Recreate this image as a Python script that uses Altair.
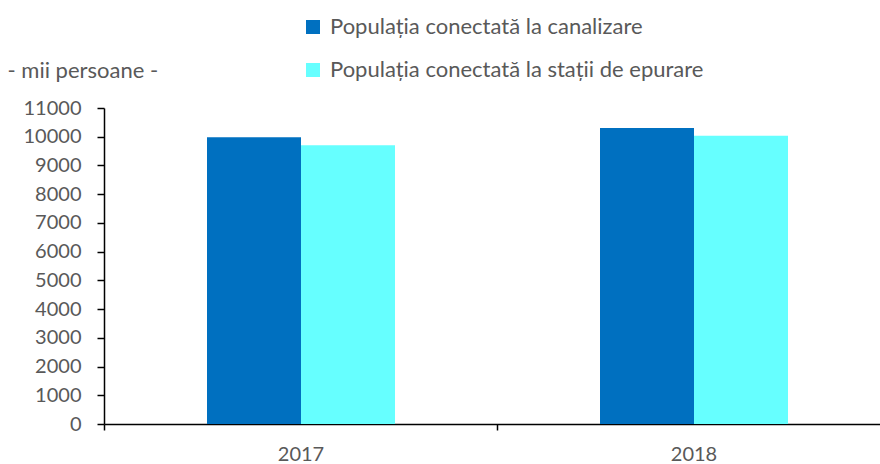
import altair as alt
import pandas as pd

years = ["2017", "2018"]
series = ["Populația conectată la canalizare", "Populația conectată la stații de epurare"]
canalizare = [9980, 10300]
epurare = [9700, 10030]
colors = ["#0070C0", "#66FFFF"]
y_ticks = list(range(0, 11001, 1000))

rows = []
for i, y in enumerate(years):
    rows.append({"an": y, "serie": series[0], "val": canalizare[i]})
    rows.append({"an": y, "serie": series[1], "val": epurare[i]})
df = pd.DataFrame(rows)

FONT = "Lato"
GRAY = "#595959"

chart = alt.Chart(df).mark_bar().encode(
    x=alt.X("an:N", sort=years,
            scale=alt.Scale(range=[0, 786], paddingInner=0, paddingOuter=0),
            axis=alt.Axis(title=None, labelAngle=0, tickBand="extent", tickSize=6,
                          labelPadding=14, labelFontSize=20, labelColor=GRAY,
                          labelFont=FONT, domainColor="#000000", tickColor="#000000",
                          domainWidth=1.5, tickWidth=1.5)),
    xOffset=alt.XOffset("serie:N", sort=series,
                        scale=alt.Scale(range=[103, 291], paddingInner=0, paddingOuter=0)),
    y=alt.Y("val:Q", scale=alt.Scale(domain=[0, 11000], nice=False),
            axis=alt.Axis(values=y_ticks, format="d", grid=False, tickSize=7, labelPadding=16,
                          labelFontSize=20, labelColor=GRAY, labelFont=FONT,
                          domainColor="#000000", tickColor="#000000",
                          domainWidth=1.5, tickWidth=1.5,
                          title="- mii persoane -", titleAngle=0, titleX=-97, titleY=-38,
                          titleAlign="left", titleBaseline="middle", titleFontSize=22,
                          titleFontWeight="normal", titleColor=GRAY, titleFont=FONT)),
    color=alt.Color("serie:N", sort=series,
                    scale=alt.Scale(domain=series, range=colors),
                    legend=alt.Legend(title=None, orient="none", legendX=198, legendY=-92,
                                      symbolType="square", symbolSize=196,
                                      symbolStrokeWidth=0, labelFontSize=22,
                                      labelColor=GRAY, labelFont=FONT, rowPadding=21,
                                      labelLimit=600, labelOffset=6)),
).properties(
    width=776, height=316,
    autosize=alt.AutoSizeParams(type="none"),
    padding={"left": 104, "top": 108, "right": 0, "bottom": 40},
).configure_view(stroke=None)

chart.save("out.html", embed_options={"renderer": "svg", "actions": False})
